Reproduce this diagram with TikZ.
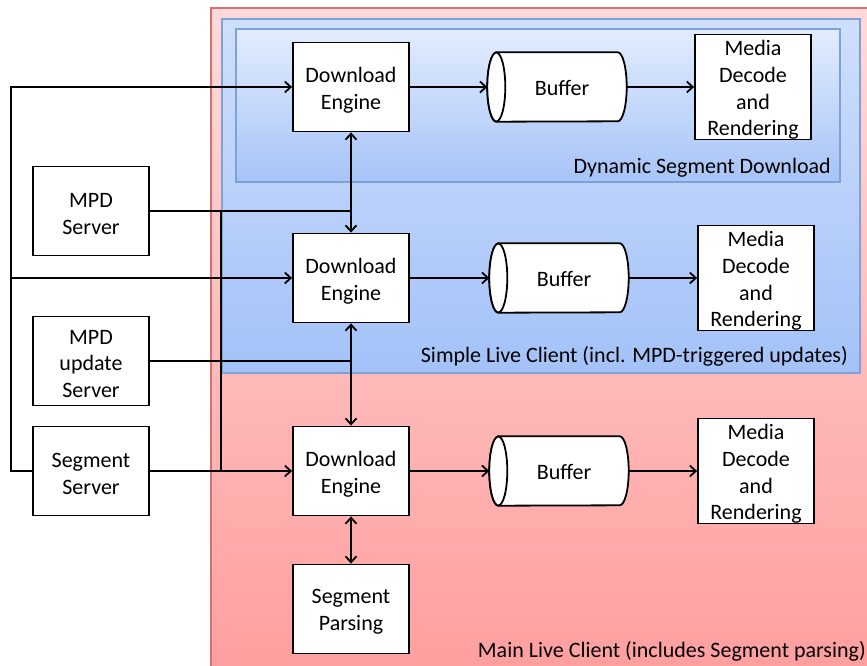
\documentclass[tikz,border=0pt]{standalone}
\usepackage{fontspec}
\setmainfont{Carlito}
\usetikzlibrary{arrows.meta}
\definecolor{redtop}{HTML}{FFDADA}
\definecolor{redbot}{HTML}{FF9E9E}
\definecolor{redline}{HTML}{D87070}
\definecolor{bluetop}{HTML}{CFDFFB}
\definecolor{bluebot}{HTML}{A3C2F8}
\definecolor{innertop}{HTML}{E2ECFD}
\definecolor{innerbot}{HTML}{A6C4F7}
\definecolor{blueline}{HTML}{7EA2D6}
\tikzset{
  box/.style={draw=black, fill=white, line width=1.8pt, minimum width=116pt, minimum height=89pt, inner sep=0pt,
    label={[align=center, inner sep=0pt, yshift=-3pt, font=\fontsize{22}{26.7}\selectfont]center:{#1}}},
  mediabox/.style={box={#1}, minimum height=105pt},
  buf/.style={minimum width=139pt, minimum height=69pt, inner sep=0pt, font=\fontsize{22}{26.7}\selectfont},
  cyl/.style={draw=black, fill=white, line width=1.8pt},
  arr/.style={line width=1.8pt, -{Straight Barb[length=6pt,width=11pt,line width=1.8pt]}},
  darr/.style={line width=1.8pt, {Straight Barb[length=6pt,width=11pt,line width=1.8pt]}-{Straight Barb[length=6pt,width=11pt,line width=1.8pt]}},
  ln/.style={line width=1.8pt},
  lbl/.style={anchor=east, inner sep=0pt, font=\fontsize{22}{26}\selectfont}
}
\newcommand{\cylbody}[1]{%
  \draw[cyl] ([xshift=9pt]#1.north west) -- ([xshift=-9pt]#1.north east)
    arc(-90:90:9 and 34.5) -- ([xshift=9pt]#1.south west)
    arc(90:270:9 and 34.5) -- cycle;
  \draw[cyl] ([xshift=9pt]#1.west) ellipse (9 and 34.5);
}
\begin{document}
\begin{tikzpicture}[x=1pt,y=-1pt]
\useasboundingbox (0,0) rectangle (867,666);
\clip (0,0) rectangle (867,666);
% regions
\shade[top color=redtop, bottom color=redbot] (211,8) rectangle (880,680);
\draw[redline, line width=1.2pt] (211,680) -- (211,8) -- (880,8);
\shade[top color=bluetop, bottom color=bluebot] (222,19) rectangle (860,373);
\draw[blueline, line width=1.2pt] (222,19) rectangle (860,373);
\shade[top color=innertop, bottom color=innerbot] (236,29) rectangle (840,182);
\draw[blueline, line width=1.2pt] (236,29) rectangle (840,182);
% labels
\node[lbl] (l1) at (831,167.5) {Dynamic Segment Download};
\node[lbl] (l2) at (848,356.5) {Simple Live Client (incl. MPD-triggered updates)};
\node[lbl] (l3) at (866,651.5) {Main Live Client (includes Segment parsing)};
% nodes
\node[box={Download\\Engine}] (de1) at (351,87) {};
\node[box={Download\\Engine}] (de2) at (351,278) {};
\node[box={Download\\Engine}] (de3) at (351,471) {};
\node[box={Segment\\Parsing}] (sp) at (351,609) {};
\node[box={MPD\\Server}] (mpd) at (91,211) {};
\node[box={MPD\\update\\Server}] (mpdu) at (91,361) {};
\node[box={Segment\\Server}] (ss) at (91,471) {};
\node[buf] (b1) at (557,87) {};
\node[buf] (b2) at (559,278) {};
\node[buf] (b3) at (559,471) {};
\cylbody{b1}\cylbody{b2}\cylbody{b3}
\node[buf] (t1) at (562,88) {Buffer};
\node[buf] (t2) at (564,279) {Buffer};
\node[buf] (t3) at (564,472) {Buffer};
\node[mediabox={Media\\Decode\\and\\Rendering}] (m1) at (753,87) {};
\node[mediabox={Media\\Decode\\and\\Rendering}] (m2) at (756,278) {};
\node[mediabox={Media\\Decode\\and\\Rendering}] (m3) at (756,471) {};
% coordinates
\coordinate (left) at (11,278);
\coordinate (ja) at (221,211);
\coordinate (jb) at (221,471);
% connectors
\draw[arr] (ss.west) -- (ss.west -| left) |- (de1.west);
\draw[arr] (left) -- (de2.west);
\draw[arr] (ss.east) -- (de3.west);
\draw[ln] (mpd.east) -- (mpd.east -| de2.north);
\draw[ln] (mpdu.east) -- (mpdu.east -| de3.north);
\draw[ln] (ja) -- (jb);
\draw[darr] (de1.south) -- (de2.north);
\draw[darr] (de2.south) -- (de3.north);
\draw[darr] (de3.south) -- (sp.north);
\draw[arr] (de1.east) -- (b1.west);
\draw[arr] (de2.east) -- (b2.west);
\draw[arr] (de3.east) -- (b3.west);
\draw[arr] (b1.east) -- (m1.west);
\draw[arr] (b2.east) -- (m2.west);
\draw[arr] (b3.east) -- (m3.west);
\end{tikzpicture}
\end{document}
